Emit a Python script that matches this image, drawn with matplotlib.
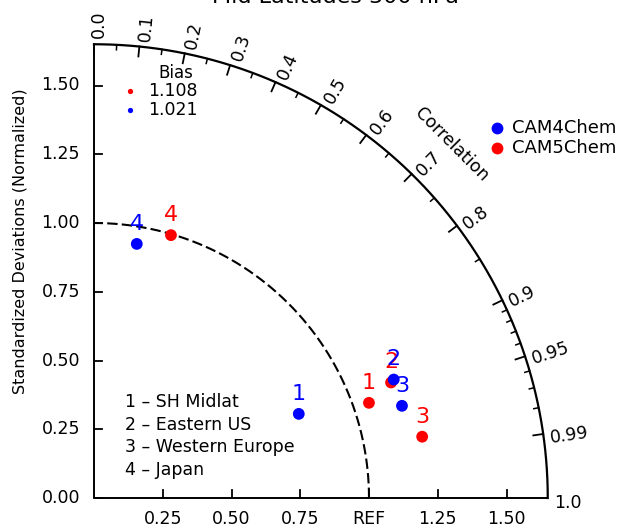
import numpy as np
import matplotlib.pyplot as plt

plt.rcParams['font.family'] = 'DejaVu Sans'

regions = ['SH Midlat', 'Eastern US', 'Western Europe', 'Japan']
models = ['CAM4Chem', 'CAM5Chem']
model_colors = ['blue', 'red']
bias_values = ['1.108', '1.021']
bias_colors = ['red', 'blue']

# normalized standard deviation and correlation for each region
cam4_std = [0.805, 1.172, 1.169, 0.937]
cam4_cor = [0.925, 0.930, 0.958, 0.166]
cam5_std = [1.058, 1.159, 1.214, 0.996]
cam5_cor = [0.945, 0.932, 0.983, 0.281]

std_ticks = [0.25, 0.50, 0.75, 1.00, 1.25, 1.50]
std_x_labels = ['0.25', '0.50', '0.75', 'REF', '1.25', '1.50']
std_y_labels = ['0.25', '0.50', '0.75', '1.00', '1.25', '1.50']
cor_major = [0.0, 0.1, 0.2, 0.3, 0.4, 0.5, 0.6, 0.7, 0.8, 0.9, 0.95, 0.99, 1.0]
cor_major_labels = ['0.0', '0.1', '0.2', '0.3', '0.4', '0.5', '0.6', '0.7',
                    '0.8', '0.9', '0.95', '0.99', '1.0']
cor_minor = [0.05, 0.15, 0.25, 0.35, 0.45, 0.55, 0.65, 0.75, 0.85,
             0.91, 0.92, 0.93, 0.94, 0.96, 0.97, 0.98]

rmax = 1.65
px = 275.0  # pixels per std unit

fig = plt.figure(figsize=(6.3, 5.27), dpi=100)
ax = fig.add_axes([0, 0, 1, 1])
ax.set_xlim(-94 / px, (630 - 94) / px)
ax.set_ylim((498 - 527) / px, 498 / px)
ax.axis('off')


def polar(r, c):
    th = np.arccos(c)
    return r * np.cos(th), r * np.sin(th)


# axes of the quarter circle
ax.plot([0, 0], [0, rmax], color='black', lw=1.4, solid_capstyle='butt')
ax.plot([0, rmax], [0, 0], color='black', lw=1.4, solid_capstyle='butt')
th = np.linspace(0, np.pi / 2, 300)
ax.plot(rmax * np.cos(th), rmax * np.sin(th), color='black', lw=1.6)
# reference arc
ax.plot(np.cos(th), np.sin(th), color='black', lw=1.5, ls=(0, (5, 2)))

tl = 8 / px
for t, lab in zip(std_ticks, std_x_labels):
    ax.plot([t, t], [0, tl], color='black', lw=1.3)
    ax.text(t, -21 / px, lab, ha='center', va='center', fontsize=12.5)
ax.plot([0, tl], [0, 0], color='black', lw=1.3)
ax.text(-14 / px, 0, '0.00', ha='right', va='center', fontsize=12.5)
for t, lab in zip(std_ticks, std_y_labels):
    ax.plot([0, tl], [t, t], color='black', lw=1.3)
    ax.text(-14 / px, t, lab, ha='right', va='center', fontsize=12.5)

# correlation ticks on the outer arc
for c in cor_major[:-1]:
    x0, y0 = polar(rmax, c)
    x1, y1 = polar(rmax - 10 / px, c)
    ax.plot([x0, x1], [y0, y1], color='black', lw=1.3)
for c in cor_minor:
    x0, y0 = polar(rmax, c)
    x1, y1 = polar(rmax - 5 / px, c)
    ax.plot([x0, x1], [y0, y1], color='black', lw=1.1)
for c, lab in zip(cor_major, cor_major_labels):
    ang = np.arccos(c) - 5 / px / rmax
    r = rmax + 6 / px
    ax.text(r * np.cos(ang), r * np.sin(ang), lab, rotation=np.degrees(np.arccos(c)),
            rotation_mode='anchor', ha='left', va='center', fontsize=12.5)

ax.text(1.302, 1.284, 'Correlation', rotation=-45, ha='center', va='center',
        fontsize=12.5)
ax.text(-0.269, 0.935, 'Standardized Deviations (Normalized)', rotation=90,
        ha='center', va='center', fontsize=11.5)

# model points with region numbers
for std, cor, col in [(cam5_std, cam5_cor, 'red'), (cam4_std, cam4_cor, 'blue')]:
    xs, ys = polar(np.array(std), np.array(cor))
    ax.scatter(xs, ys, s=72, color=col, edgecolors='none', zorder=3)
    for i, (x, y) in enumerate(zip(xs, ys)):
        ax.annotate(str(i + 1), (x, y), xytext=(0, 14.5), textcoords='offset points',
                    ha='center', va='center', fontsize=16, color=col, zorder=4)

# model legend
for i, (m, col) in enumerate(zip(models, model_colors)):
    y = (498 - 128 - 20 * i) / px
    ax.plot(1.465, y, 'o', ms=8.5, color=col, mec='none')
    ax.text(1.52, y, m, ha='left', va='center', fontsize=13)

# bias legend
ax.text(0.298, 1.545, 'Bias', ha='center', va='center', fontsize=12)
for i, (b, col) in enumerate(zip(bias_values, bias_colors)):
    y = (498 - 91 - 19 * i) / px
    ax.plot(0.131, y, 'o', ms=3.8, color=col, mec='none')
    ax.text(0.196, y, b, ha='left', va='center', fontsize=12.5)

# region legend
for i, reg in enumerate(regions):
    y = (498 - 402 - 22.7 * i) / px
    ax.text(0.113, y, '%d – %s' % (i + 1, reg), ha='left', va='center', fontsize=12.5)

fig.text(0.532, 1 - 3 / 527, 'Mid Latitudes 300 hPa', ha='center', va='baseline',
         fontsize=16)

fig.savefig('out.png', dpi=100)
